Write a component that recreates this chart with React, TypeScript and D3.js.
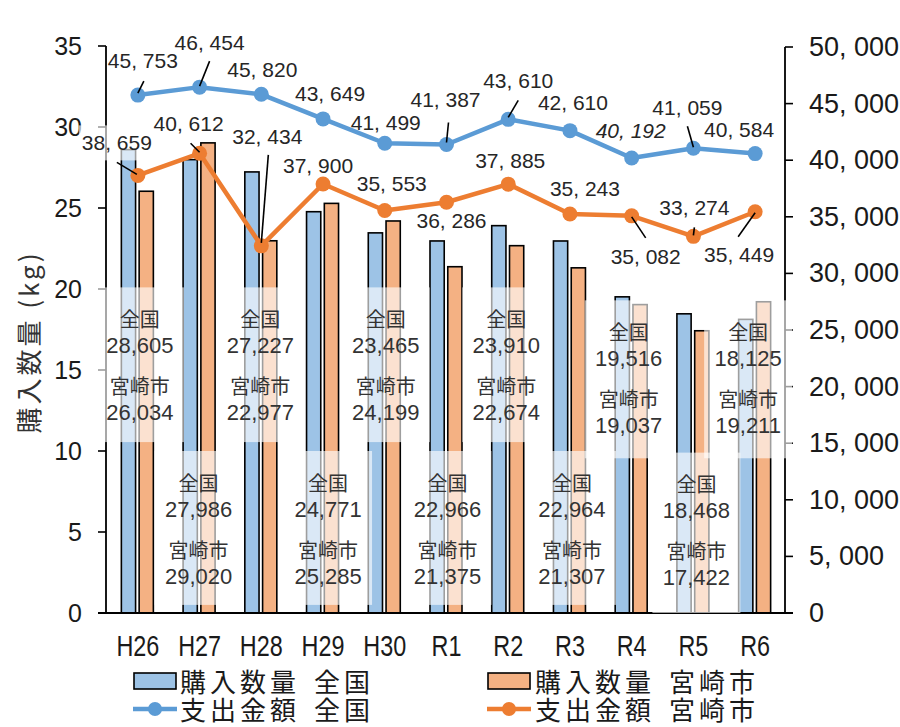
import React from "react";
import * as d3 from "d3";

const categories = ["H26", "H27", "H28", "H29", "H30", "R1", "R2", "R3", "R4", "R5", "R6"];
const qtyNational = [28.605, 27.986, 27.227, 24.771, 23.465, 22.966, 23.91, 22.964, 19.516, 18.468, 18.125];
const qtyMiyazaki = [26.034, 29.02, 22.977, 25.285, 24.199, 21.375, 22.674, 21.307, 19.037, 17.422, 19.211];
const spendNational = [45753, 46454, 45820, 43649, 41499, 41387, 43610, 42610, 40192, 41059, 40584];
const spendMiyazaki = [38659, 40612, 32434, 37900, 35553, 36286, 37885, 35243, 35082, 33274, 35449];
const leftTicks = [0, 5, 10, 15, 20, 25, 30, 35];
const rightTicks = [0, 5000, 10000, 15000, 20000, 25000, 30000, 35000, 40000, 45000, 50000];
const seriesNames = ["購入数量 全国", "購入数量 宮崎市", "支出金額 全国", "支出金額 宮崎市"];
const yTitle = "購入数量 (kg)";

// annotation layout (label offsets relative to points, in px)
const labelOffNat: [number, number][] = [[5, -35], [10, -45], [1, -25], [7, -25], [1, -21], [-1, -45], [10, -39], [3, -28], [-1, -28], [-6, -41], [-16, -24]];
const leaderNat: (number[] | null)[] = [[6, -14, 0, -2], [10, -26, 0, -1], null, null, null, [2, -22, 0, -2], [10, -19, 0, -2], null, null, [-6, -22, 0, -1], null];
const italicNat = [false, false, false, false, false, false, false, false, true, false, false];
const labelOffMiy: [number, number][] = [[-21, -33], [-11, -30], [6, -109], [-5, -18], [7, -27], [5, 18], [2, -24], [15, -26], [14, 41], [1, -29], [-16, 43]];
const leaderMiy: (number[] | null)[] = [[-21, -13, -1, -1], [-9, -10, 0, -1], [7, -91, 0, -3], null, null, null, null, null, [14, 22, 0, 1], [1, -9, 0, -1], [-17, 25, 0, 1]];
const labelBgMiy = [true, false, false, false, false, false, false, false, false, false, false];
// text boxes over bars (kg range) and x offsets
const boxRange: [number, number][] = [[20.1, 10.55], [10, 0.5], [20.1, 10.55], [10, 0.5], [20.1, 10.55], [10, 0.5], [20.1, 10.55], [10, 0.5], [19.3, 9.55], [9.9, 0], [19.3, 9.55]];
const boxDx = [2, -1, -1, 5, 1, 1, -2, 2, -3, 3, -7];

const BLUE = "#5B9BD5";
const ORANGE = "#ED7D31";
const BLUE_BAR = "#9DC3E6";
const ORANGE_BAR = "#F4B183";
const LAT = "'Liberation Sans', Arial, sans-serif";
const JP = "'Noto Sans CJK JP', 'Noto Sans CJK SC', sans-serif";

const W = 900;
const H = 727;

export default function App() {
  const x = d3.scaleBand<string>().domain(categories).range([107, 786]).padding(0);
  const xSub = d3.scaleBand<string>().domain(["n", "m"]).range([-16.5, 15.5]).paddingInner(0.2);
  const yL = d3.scaleLinear().domain([0, 35]).range([613, 46]);
  const yR = d3.scaleLinear().domain([0, 50000]).range([613, 47]);
  const cx = (c: string) => (x(c) as number) + x.bandwidth() / 2;
  const fmtComma = d3.format(",");
  const fmtLabel = (v: number) => fmtComma(v).replace(",", ", ");

  const lineGen = (vals: number[]) =>
    d3.line<number>().x((_, i) => cx(categories[i])).y((v) => yR(v))(vals) as string;

  const renderSeriesLabels = (
    vals: number[],
    offs: [number, number][],
    leaders: (number[] | null)[],
    italic: boolean[] | null,
    bg: boolean[] | null,
    key: string
  ) =>
    vals.map((v, i) => {
      const px = cx(categories[i]);
      const py = yR(v);
      const [dx, dy] = offs[i];
      const ld = leaders[i];
      return (
        <g key={key + i}>
          {bg && bg[i] && (
            <rect x={px + dx - 38} y={py + dy - 17} width={76} height={35} fill="#fff" fillOpacity={0.62} />
          )}
          {ld && (
            <line x1={px + ld[0]} y1={py + ld[1]} x2={px + ld[2]} y2={py + ld[3]} stroke="#000" strokeWidth={1.6} />
          )}
          <text
            x={px + dx}
            y={py + dy}
            textAnchor="middle"
            dominantBaseline="central"
            fontFamily={LAT}
            fontSize={21}
            fontStyle={italic && italic[i] ? "italic" : "normal"}
            fill="#262626"
          >
            {fmtLabel(v)}
          </text>
        </g>
      );
    });

  return (
    <svg width={W} height={H} style={{ position: "absolute", left: 0, top: 0, background: "#fff" }}>
      <rect x={0} y={0} width={W} height={H} fill="#fff" />
      {/* bars */}
      {categories.map((c, i) => (
        <g key={"b" + c}>
          <rect
            x={cx(c) + (xSub("n") as number)}
            y={yL(qtyNational[i])}
            width={xSub.bandwidth()}
            height={yL(0) - yL(qtyNational[i])}
            fill={BLUE_BAR}
            stroke="#000"
            strokeWidth={1.6}
          />
          <rect
            x={cx(c) + (xSub("m") as number)}
            y={yL(qtyMiyazaki[i])}
            width={xSub.bandwidth()}
            height={yL(0) - yL(qtyMiyazaki[i])}
            fill={ORANGE_BAR}
            stroke="#000"
            strokeWidth={1.6}
          />
        </g>
      ))}
      {/* axes */}
      <line x1={106} x2={106} y1={yL(35)} y2={yL(0)} stroke="#000" strokeWidth={1.8} />
      <line x1={785} x2={785} y1={yR(50000)} y2={yR(0)} stroke="#000" strokeWidth={1.8} />
      <line x1={98} x2={793} y1={yL(0)} y2={yL(0)} stroke="#000" strokeWidth={1.8} />
      {leftTicks.map((t) => (
        <g key={"lt" + t}>
          <line x1={98} x2={106} y1={yL(t)} y2={yL(t)} stroke="#000" strokeWidth={1.6} />
          <text x={82} y={yL(t)} textAnchor="end" dominantBaseline="central" fontFamily={LAT} fontSize={25} fill="#1a1a1a">
            {t}
          </text>
        </g>
      ))}
      {rightTicks.map((t) => (
        <g key={"rt" + t}>
          <line x1={785} x2={793} y1={yR(t)} y2={yR(t)} stroke="#000" strokeWidth={1.6} />
          <text x={809} y={yR(t)} textAnchor="start" dominantBaseline="central" fontFamily={LAT} fontSize={27} fill="#1a1a1a">
            {fmtLabel(t)}
          </text>
        </g>
      ))}
      {categories.map((c) => (
        <text
          key={"xl" + c}
          transform={`translate(${cx(c)},646) scale(0.78,1)`}
          textAnchor="middle"
          dominantBaseline="central"
          fontFamily={LAT}
          fontSize={30}
          fill="#1a1a1a"
        >
          {c}
        </text>
      ))}
      <text
        transform={`translate(27,342) rotate(-90)`}
        textAnchor="middle"
        dominantBaseline="central"
        fontFamily={JP}
        fontSize={26}
        letterSpacing={3}
        fill="#333"
      >
        {yTitle}
      </text>
      {/* lines */}
      <path d={lineGen(spendNational)} fill="none" stroke={BLUE} strokeWidth={4.5} strokeLinejoin="round" />
      <path d={lineGen(spendMiyazaki)} fill="none" stroke={ORANGE} strokeWidth={4.5} strokeLinejoin="round" />
      {spendNational.map((v, i) => (
        <circle key={"cn" + i} cx={cx(categories[i])} cy={yR(v)} r={7.5} fill={BLUE} />
      ))}
      {spendMiyazaki.map((v, i) => (
        <circle key={"cm" + i} cx={cx(categories[i])} cy={yR(v)} r={7.5} fill={ORANGE} />
      ))}
      {/* text boxes over bars */}
      {categories.map((c, i) => {
        const top = yL(boxRange[i][0]);
        const bot = yL(boxRange[i][1]);
        const bx = cx(c) + boxDx[i];
        return (
          <g key={"box" + c}>
            <rect x={bx - 44} y={top} width={88} height={bot - top} fill="#fff" fillOpacity={0.62} />
            <text x={bx} y={top + 31} textAnchor="middle" dominantBaseline="central" fontFamily={JP} fontSize={20} fill="#333">
              全国
            </text>
            <text x={bx} y={top + 58} textAnchor="middle" dominantBaseline="central" fontFamily={LAT} fontSize={22} fill="#333">
              {fmtComma(Math.round(qtyNational[i] * 1000))}
            </text>
            <text x={bx} y={top + 98} textAnchor="middle" dominantBaseline="central" fontFamily={JP} fontSize={20} fill="#333">
              宮崎市
            </text>
            <text x={bx} y={top + 125} textAnchor="middle" dominantBaseline="central" fontFamily={LAT} fontSize={22} fill="#333">
              {fmtComma(Math.round(qtyMiyazaki[i] * 1000))}
            </text>
          </g>
        );
      })}
      {/* data labels */}
      {renderSeriesLabels(spendNational, labelOffNat, leaderNat, italicNat, null, "ln")}
      {renderSeriesLabels(spendMiyazaki, labelOffMiy, leaderMiy, null, labelBgMiy, "lm")}
      {/* legend */}
      <g>
        <rect x={134} y={673} width={42} height={16} fill={BLUE_BAR} stroke="#000" strokeWidth={1.6} />
        <rect x={488} y={673} width={42} height={16} fill={ORANGE_BAR} stroke="#000" strokeWidth={1.6} />
        <line x1={133} x2={177} y1={709} y2={709} stroke={BLUE} strokeWidth={4.5} />
        <circle cx={155} cy={709} r={7} fill={BLUE} />
        <line x1={487} x2={531} y1={709} y2={709} stroke={ORANGE} strokeWidth={4.5} />
        <circle cx={509} cy={709} r={7} fill={ORANGE} />
        {seriesNames.map((s, i) => {
          const [a, b] = s.split(" ");
          const lx = i % 2 === 0 ? 180 : 535;
          const ly = i < 2 ? 680 : 708;
          return (
            <text key={"lg" + i} x={lx} y={ly} dominantBaseline="central" fontFamily={JP} fontSize={26} letterSpacing={4} fill="#1a1a1a">
              <tspan>{a}</tspan>
              <tspan dx={14}>{b}</tspan>
            </text>
          );
        })}
      </g>
    </svg>
  );
}
